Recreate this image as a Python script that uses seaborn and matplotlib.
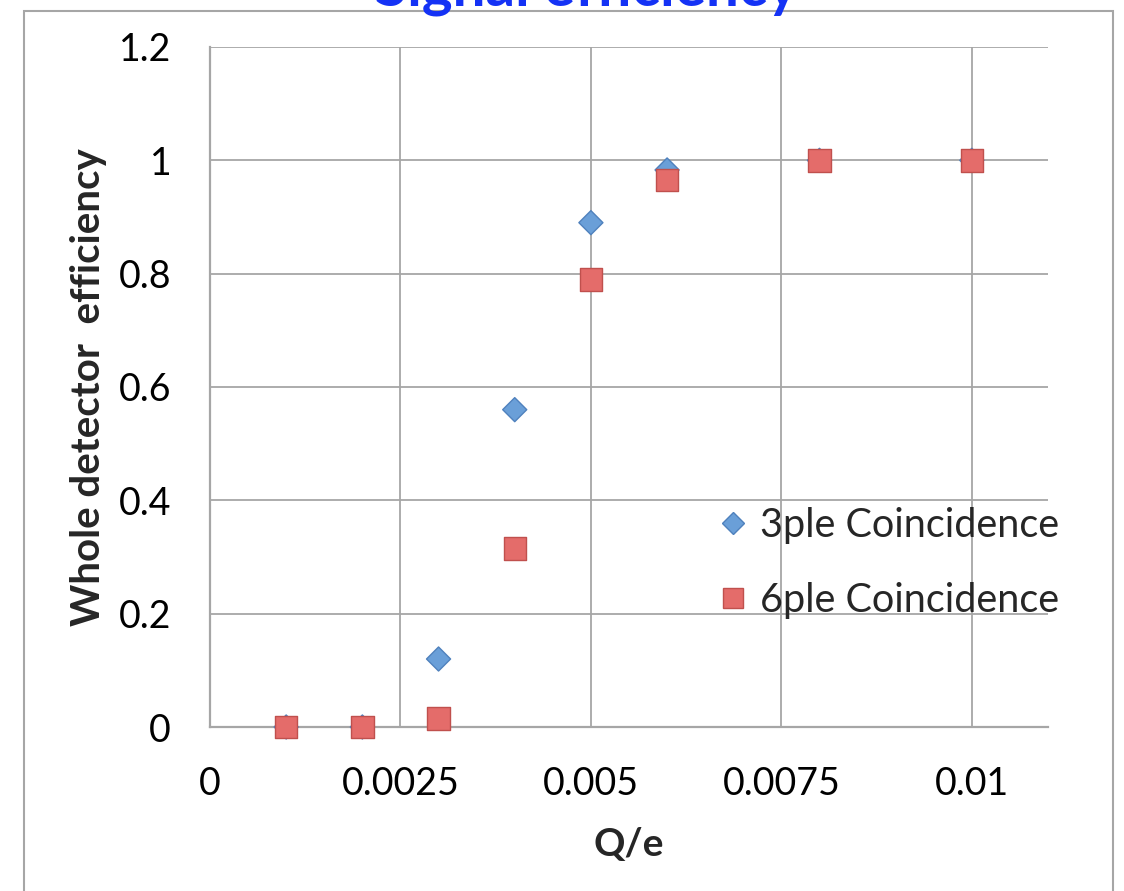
import matplotlib
matplotlib.use("Agg")
import matplotlib.pyplot as plt
import seaborn as sns
import pandas as pd
from matplotlib.patches import Rectangle
from matplotlib.lines import Line2D

q_values = [0.001, 0.002, 0.003, 0.004, 0.005, 0.006, 0.008, 0.010]
eff_3ple = [0.0, 0.0, 0.12, 0.56, 0.89, 0.983, 1.0, 1.0]
eff_6ple = [0.0, 0.0, 0.015, 0.315, 0.79, 0.965, 1.0, 1.0]
series_names = ["3ple Coincidence", "6ple Coincidence"]
x_ticks = [0, 0.0025, 0.005, 0.0075, 0.01]
x_tick_labels = ["0", "0.0025", "0.005", "0.0075", "0.01"]
y_ticks = [0, 0.2, 0.4, 0.6, 0.8, 1.0, 1.2]
y_tick_labels = ["0", "0.2", "0.4", "0.6", "0.8", "1", "1.2"]

df = pd.DataFrame({
    "Q/e": q_values * 2,
    "eff": eff_3ple + eff_6ple,
    "series": [series_names[0]] * len(q_values) + [series_names[1]] * len(q_values),
})

sns.set_style("white")
plt.rcParams["font.family"] = ["Lato", "DejaVu Sans"]

fig = plt.figure(figsize=(11.24, 8.91), dpi=100)
ax = fig.add_axes([210 / 1124, 1 - 727 / 891, (1048 - 210) / 1124, (727 - 47) / 891])

grid_c = "#a6a6a6"
blue_f, blue_e = "#6a9fd8", "#4f81bd"
red_f, red_e = "#e46c6a", "#c0504d"
sns.scatterplot(data=df, x="Q/e", y="eff", hue="series", style="series",
                hue_order=series_names, style_order=series_names,
                palette={series_names[0]: blue_f, series_names[1]: red_f},
                markers={series_names[0]: "D", series_names[1]: "s"},
                s=230, ax=ax, legend=False, zorder=3)
coll = ax.collections[0]
coll.set_edgecolors([blue_e if s == series_names[0] else red_e for s in df["series"]])
coll.set_linewidths(1.0)
coll.set_sizes([150 if s == series_names[0] else 260 for s in df["series"]])
coll.set_clip_on(False)

ax.set_xlim(0, 0.011)
ax.set_ylim(0, 1.2)
ax.set_xticks(x_ticks)
ax.set_xticklabels(x_tick_labels)
ax.set_yticks(y_ticks)
ax.set_yticklabels(y_tick_labels)
ax.tick_params(axis="both", labelsize=27, length=0, colors="black")
ax.tick_params(axis="x", pad=28)
ax.tick_params(axis="y", pad=28)
ax.grid(True, color=grid_c, linewidth=1.3)
ax.set_axisbelow(True)
for side in ["top", "right"]:
    ax.spines[side].set_visible(False)
for side in ["left", "bottom"]:
    ax.spines[side].set_color(grid_c)
    ax.spines[side].set_linewidth(1.6)

ax.set_xlabel("Q/e", fontsize=28, fontweight="bold", labelpad=18)
ax.set_ylabel("Whole detector  efficiency", fontsize=29, fontweight="bold", labelpad=8)

handles = [
    Line2D([], [], linestyle="none", marker="D", markersize=11,
           markerfacecolor=blue_f, markeredgecolor=blue_e),
    Line2D([], [], linestyle="none", marker="s", markersize=15,
           markerfacecolor=red_f, markeredgecolor=red_e),
]
ax.legend(handles, series_names, loc="center left",
          bbox_to_anchor=((713 - 210) / 838, 1 - (563 - 47) / 680),
          frameon=False, fontsize=28.5, handletextpad=0.2, labelspacing=0.95,
          handlelength=1.0, borderaxespad=0, borderpad=0)

fig.add_artist(Rectangle((24 / 1124, -0.05), (1113 - 24) / 1124, 1.05 - 11 / 891,
                         transform=fig.transFigure, fill=False,
                         edgecolor="#a6a6a6", linewidth=1.5))
fig.text(586 / 1124, 1 - 5 / 891, "Signal efficiency", ha="center", va="baseline",
         fontsize=42, fontweight="bold", color="#1432f5")

fig.savefig("out.png", dpi=100)
